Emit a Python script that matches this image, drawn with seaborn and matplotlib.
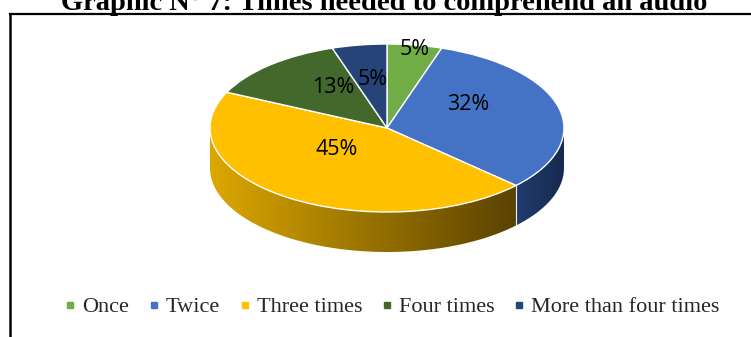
import numpy as np
import matplotlib
matplotlib.use("Agg")
import matplotlib.pyplot as plt
import seaborn as sns
from matplotlib.patches import Polygon
from matplotlib.colors import LinearSegmentedColormap
from matplotlib.lines import Line2D

# ---- data ----
categories = ["Once", "Twice", "Three times", "Four times", "More than four times"]
values = [5, 32, 45, 13, 5]
title = "Graphic N° 7: Times needed to comprehend an audio"

# ---- styles ----
top_colors = sns.color_palette(["#70AD47", "#4472C4", "#FFC000", "#43682B", "#264478"])
side_colors = [("#5E9239", "#3E6426"), ("#213C70", "#172A50"), ("#DCA700", "#5A4200"),
               ("#35531F", "#223614"), ("#1E3764", "#142544")]

sns.set_theme(style="white")
plt.rcParams["font.family"] = ["DejaVu Sans"]

W, H = 751, 337
fig = plt.figure(figsize=(W / 100, H / 100), dpi=100)
bg = fig.add_axes([0, 0, 1, 1])
bg.set_xlim(0, W)
bg.set_ylim(H, 0)
bg.axis("off")

# frame lines (partial box of the original)
bg.plot([10, 10], [14, H + 2], color="black", lw=1.8, solid_capstyle="projecting")
bg.plot([10, W + 2], [14, 14], color="black", lw=1.6, solid_capstyle="projecting")

bg.text(384, 10, title, ha="center", va="baseline", fontfamily="Liberation Serif",
        fontweight="bold", fontsize=20.5, color="black")

# ---- pie geometry (pixels) ----
cx, cy, rx, ry, depth = 387, 128, 177, 84, 40
d = depth / ry
ax = fig.add_axes([(cx - rx) / W, (H - (cy + ry + depth)) / H, 2 * rx / W, (2 * ry + depth) / H])
ax.patch.set_alpha(0)

wedges, _ = ax.pie(values, colors=top_colors, startangle=90, counterclock=False, radius=1,
                   wedgeprops=dict(edgecolor="white", linewidth=1.0))

# side walls (front half only)
grad = np.linspace(0, 1, 256).reshape(1, -1)
for w, (c1, c2) in zip(wedges, side_colors):
    t1, t2 = w.theta1, w.theta2
    for lo, hi in [(-180, 0), (180, 360), (540, 720)]:
        a, b = max(t1, lo), min(t2, hi)
        if b > a:
            ts = np.radians(np.linspace(a, b, 120))
            top = np.c_[np.cos(ts), np.sin(ts)]
            bot = np.c_[np.cos(ts[::-1]), np.sin(ts[::-1]) - d]
            poly = Polygon(np.vstack([top, bot]), closed=True, facecolor="none",
                           edgecolor="none", zorder=0.5)
            ax.add_patch(poly)
            cmap = LinearSegmentedColormap.from_list("g", [c1, c2])
            im = ax.imshow(grad, extent=[np.cos(ts).min(), np.cos(ts).max(), -1 - d, 0.2],
                           cmap=cmap, aspect="auto", zorder=0.5, interpolation="bilinear")
            im.set_clip_path(poly)
            # seam lines at wedge boundaries inside the visible range
            for ang in (a, b):
                if lo < ang < hi:
                    r = np.radians(ang)
                    ax.plot([np.cos(r), np.cos(r)], [np.sin(r), np.sin(r) - d],
                            color=(1, 1, 1, 0.7), lw=0.8, zorder=0.7)

# percentage labels
label_r = [0.76, 0.47, 0.53, 0.42, 0.39]
label_turn = [-3, -3, 2, 5, 3]
lift = 16 / ry
for w, v, r, t in zip(wedges, values, label_r, label_turn):
    mid = np.radians((w.theta1 + w.theta2) / 2 + t)
    ax.text(r * np.cos(mid), r * np.sin(mid) + lift, f"{v}%", ha="center", va="center",
            fontfamily="Open Sans", fontsize=15.5, color="black", zorder=5)

ax.set_aspect("auto")
ax.set_xlim(-1, 1)
ax.set_ylim(-1 - d, 1)
ax.axis("off")

# legend
handles = [Line2D([], [], marker="s", linestyle="none", markersize=4.5, color=c) for c in top_colors]
fig.legend(handles, categories, loc="center", bbox_to_anchor=(391.5 / W, 1 - 307 / H), ncol=5,
           frameon=False, prop={"family": "Liberation Serif", "size": 16},
           handletextpad=0.25, columnspacing=0.8, handlelength=0.6, borderaxespad=0)

fig.savefig("out.png", dpi=100)
